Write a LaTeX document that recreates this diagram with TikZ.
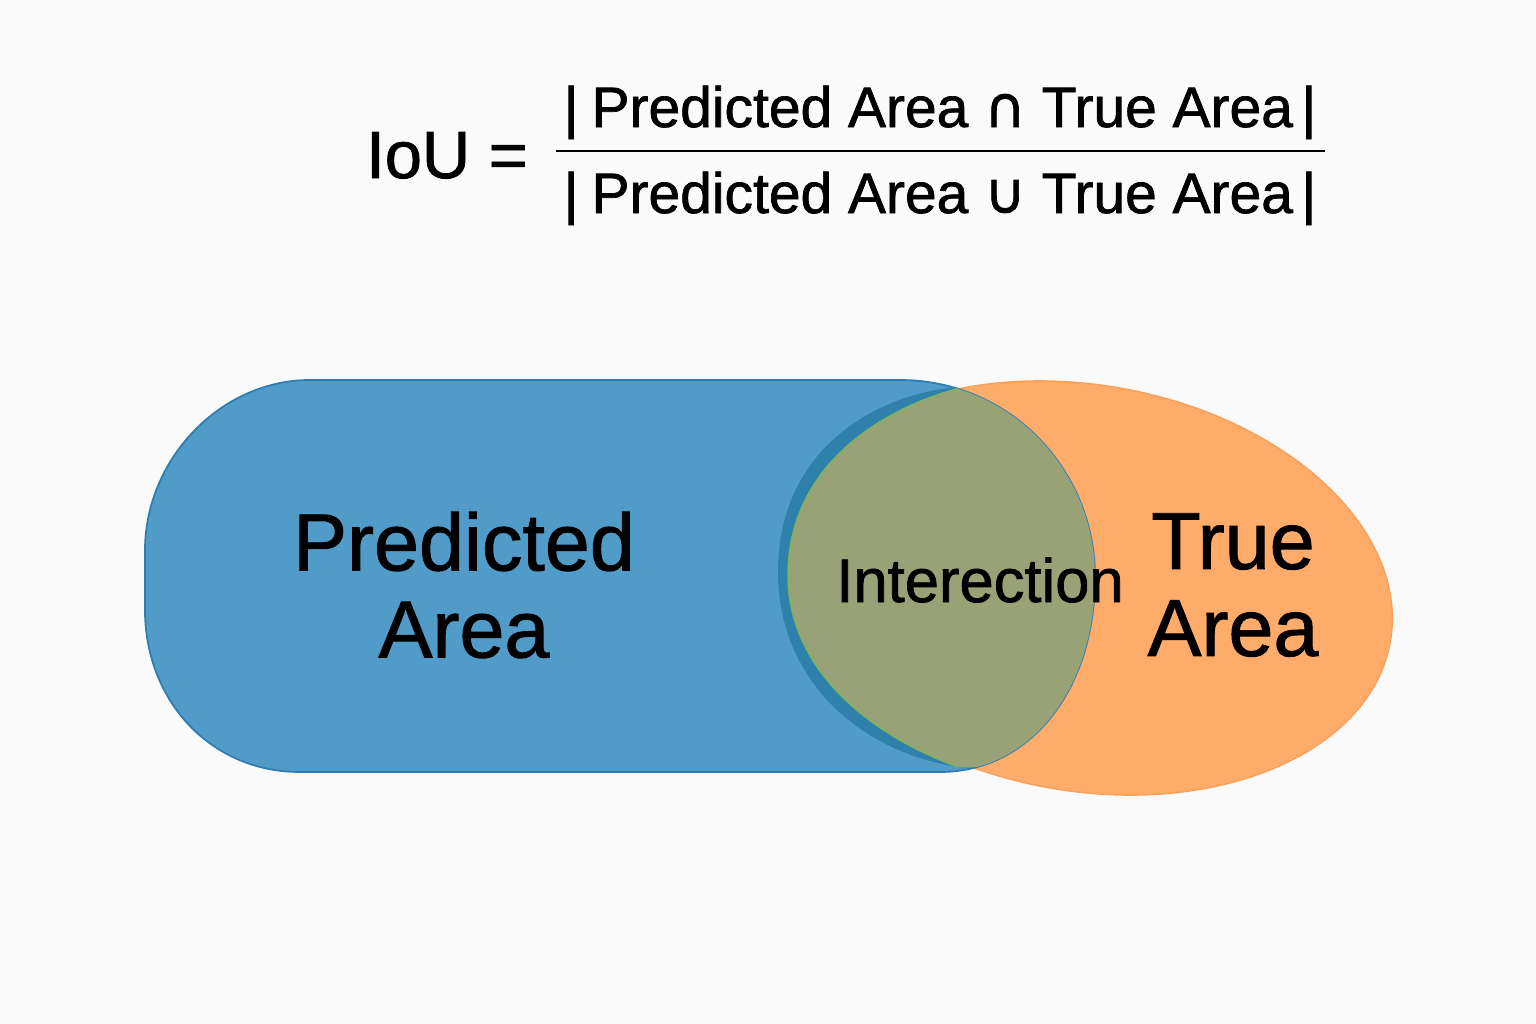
\documentclass[tikz,border=0pt]{standalone}
\usepackage{fontspec}
\setmainfont{Liberation Sans}[FakeBold=1.2]
\newfontfamily\symfont{DejaVu Sans}[FakeBold=1.2]
\usetikzlibrary{positioning}
\definecolor{pagegray}{RGB}{250, 250, 250}
\definecolor{predblue}{RGB}{80, 155, 200}
\definecolor{prededge}{RGB}{45, 125, 180}
\definecolor{darkblue}{RGB}{48, 128, 172}
\definecolor{trueorange}{RGB}{255, 172, 106}
\definecolor{trueedge}{RGB}{250, 160, 90}
\definecolor{olive}{RGB}{152, 162, 118}

\newcommand{\predpath}{(310,380) -- (900,380) .. controls (1010,380) and (1095,470) .. (1095,577)
    .. controls (1095,690) and (1030,772) .. (940,772) -- (300,772)
    .. controls (210,772) and (145,700) .. (145,610) -- (145,550)
    .. controls (145,460) and (220,380) .. (310,380) -- cycle}
\newcommand{\truepath}{(1085,588) ellipse [x radius=310, y radius=203, rotate=-10]}
\newcommand{\rimpath}{(963,387) .. controls (890,390) and (778,440) .. (778,572)
    .. controls (778,680) and (860,752) .. (958,767) -- (1200,767) -- (1200,387) -- cycle}
\newcommand{\interedge}{(963,387) .. controls (875,410) and (788,470) .. (788,575)
    .. controls (788,670) and (870,735) .. (958,767)}

\begin{document}
\begin{tikzpicture}[
    x=0.01cm, y=-0.01cm,
    font=\fontsize{23}{24.75}\selectfont,
    biglabel/.style={align=center, text=black},
    midlabel/.style={font=\fontsize{17.5}{20}\selectfont, anchor=base},
    formula/.style={font=\fontsize{16.2}{20}\selectfont, anchor=base},
    fracline/.style={line width=0.75pt, black}
]

    % Background
    \fill[pagegray] (0,0) rectangle (1536,1024);

    % Shapes
    \fill[trueorange] \truepath;
    \draw[trueedge, line width=0.4pt] \truepath;
    \fill[predblue] \predpath;
    \draw[prededge, line width=0.5pt] \predpath;
    \begin{scope}
        \clip \predpath;
        \fill[darkblue] \rimpath;
        \fill[olive] \interedge -- (1200,767) -- (1200,387) -- cycle;
        \draw[olive!80!green, line width=0.4pt] \interedge;
    \end{scope}

    % Nodes
    \node[biglabel] (pred) at (464,585) {Predicted\\Area};
    \node[biglabel] (true) at (1233,585) {True\\Area};
    \node[midlabel] (inter) at (980,602) {Interection};

    \node[formula, font=\fontsize{19}{22}\selectfont] (iou) at (447,178) {IoU =};
    \node[formula] (num) at (940,127) {|\hspace{0.23em}Predicted Area {\symfont ∩} True Area\hspace{0.15em}|};
    \node[formula] (den) at (940,213) {|\hspace{0.23em}Predicted Area {\symfont ∪} True Area\hspace{0.15em}|};

    % Fraction bar
    \coordinate (barleft) at (556,151);
    \coordinate (barright) at (1325,151);
    \draw[fracline] (barleft) -- (barright);

\end{tikzpicture}
\end{document}
